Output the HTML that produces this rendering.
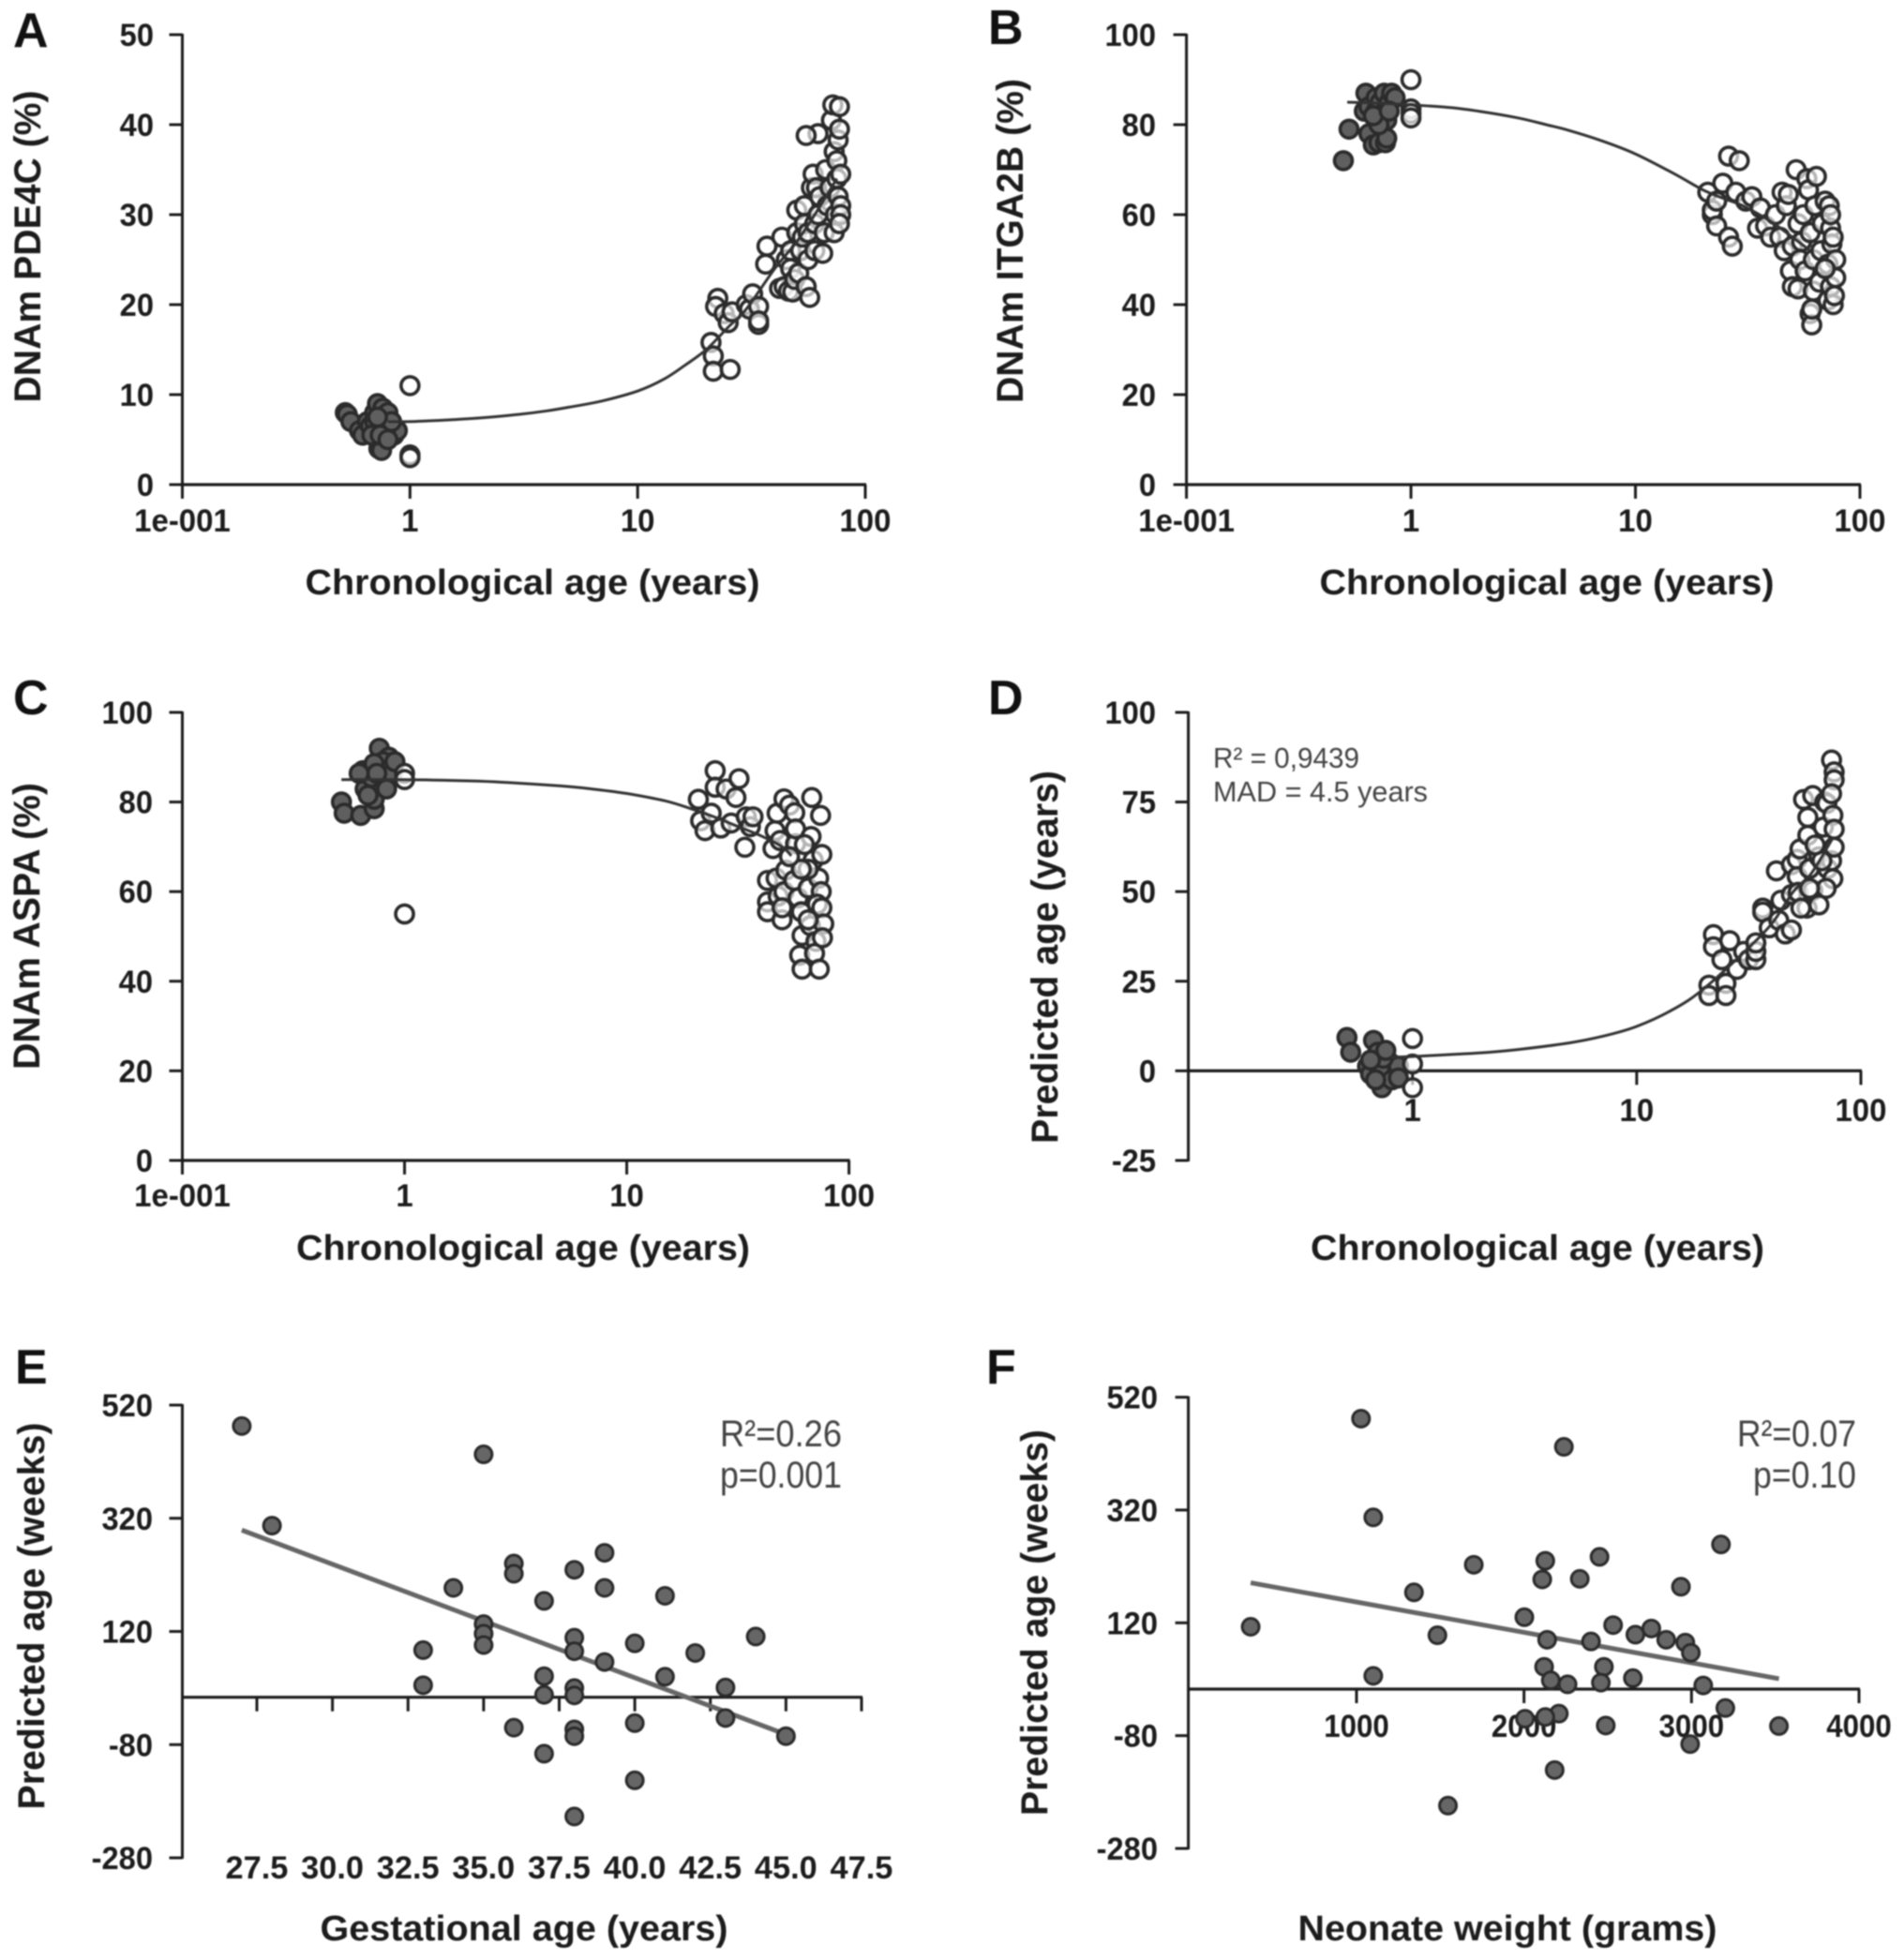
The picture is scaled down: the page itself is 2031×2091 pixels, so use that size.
<!DOCTYPE html>
<html>
<head>
<meta charset="utf-8">
<title>DNAm age panels</title>
<style>
html,body{margin:0;padding:0;background:#fff;}
svg{display:block;filter:blur(0.9px);}
text{font-family:"Liberation Sans",sans-serif;}
</style>
</head>
<body>
<svg id="figure" width="2031" height="2091" viewBox="0 0 2031 2091" xmlns="http://www.w3.org/2000/svg"></svg>
<script>
// ---------- Tick labels ----------
const logTicksFull = [0.1, 1, 10, 100];
const logTickLabelsFull = ['1e-001', '1', '10', '100'];
const logTicksShort = [1, 10, 100];
const logTickLabelsShort = ['1', '10', '100'];
const yTicksA = [0, 10, 20, 30, 40, 50];
const yTicksPercent = [0, 20, 40, 60, 80, 100];
const yTicksD = [-25, 0, 25, 50, 75, 100];
const yTicksWeeks = [-280, -80, 120, 320, 520];
const xTicksE = [27.5, 30, 32.5, 35, 37.5, 40, 42.5, 45, 47.5];
const xTickLabelsE = ['27.5', '30.0', '32.5', '35.0', '37.5', '40.0', '42.5', '45.0', '47.5'];
const xTicksF = [1000, 2000, 3000, 4000];

// ---------- Panel A ----------
const aInfantAge = [0.52,0.53,0.55,0.6,0.62,0.65,0.67,0.7,0.72,0.72,0.73,0.75,0.75,0.76,0.77,0.78,0.8,0.8,0.82,0.85,0.88,0.7,0.68,0.75,0.78,0.83,0.72,0.74,0.8];
const aInfantValue = [8,7.8,7,6,5.5,7,6.5,8,5,9,4,4.5,6,8.5,5,7,8,6,6.5,5.5,6,7,5.5,3.8,5.8,7,7.5,5.5,5];
const aOpenAge = [1,1,1,21,21.5,21.5,25.5,22.5,22,24,25,26,30,31,32,34,34,34,37,36.5,42,43,44,45,46,47,47,48,49,50,50,51,52,53,54,54,55,56,56,57,58,59,60,60,61,62,62,55,63,65,66,67,68,70,71,72,73,73,74,75,75,76,76,77,77,78,78,77,78];
const aOpenValue = [11,3.3,3,15.8,14.3,12.6,12.8,20.7,19.8,19,18,19.2,20,19.5,21.2,19.8,17.8,18.2,26.5,24.5,21.8,27.5,22,25,21.5,26,24,21.4,22.8,28,30.5,23.5,26,27.5,29,31,22,25,28,20.8,33,34.5,26,29,33,30,39,38.8,32,25.7,28,35,31,33,40.5,42.2,28,37,30,34,36,32,38.3,42,39.5,31,30,29,34.5];
const aCurveAge = [0.8,1,1.5,2,3,4,5,7,10,13,16,20,25,30,40,50,60,75];
const aCurveValue = [7,7,7.2,7.4,7.8,8.2,8.6,9.3,10.4,11.7,13.2,15,17.5,19.5,24,27,30,34];

// ---------- Panel B ----------
const bInfantAge = [0.5,0.53,0.63,0.62,0.65,0.65,0.68,0.7,0.7,0.72,0.73,0.75,0.76,0.77,0.78,0.78,0.8,0.82,0.85,0.72,0.68,0.8];
const bInfantValue = [72,79,87,83,84,78,75.5,86,83,76,85,82.5,87,76,81,77,85,87,86,80,82,83];
const bOpenAge = [1,1,1,1,21,22,22,23,23,24.5,26,27,26,29,28,31,33,35,36,38,40,42,44,45,46,47,48,49,50,50,52,53,53,54,55,56,57,58,59,60,60,61,61,62,62,63,64,66,67,68,70,72,72,73,74,74,75,76,77,78,78,76,74,70];
const bOpenValue = [90,83.5,82.5,81.5,65,60,61,57.5,63,67,55,53,73,72,65,63,64,57,61.5,57.5,55,60,55,65,52,62,64.5,47.5,53,44,70,43.5,58,50,54,60,47.5,68,65.5,56,38,35.5,39,50,43,62,68.5,45,52,58,63,49,41,62,44,57,53.5,40,42,50,46,55,60,48];
const bCurveAge = [0.52,0.7,1,1.5,2,3,4,5,7,10,15,20,25,30,40,50,60];
const bCurveValue = [85,84.8,84.4,83.8,83,81.5,80,78.8,76.5,73.5,69,65.5,63.5,62,58.5,55,52];

// ---------- Panel C ----------
const cInfantAge = [0.52,0.535,0.635,0.73,0.65,0.77,0.85,0.765,0.665,0.73,0.8,0.73,0.88,0.83,0.71,0.75,0.625,0.685,0.905];
const cInfantValue = [80,77.5,77,78.5,87,92,90,83.7,82.9,80.6,89,88.6,86.4,82.9,85.5,86.4,86.4,81.5,89];
const cOpenAge = [1,1,1,21,21.5,22.5,24,25,25,26.5,28,31,32,29.5,34,34.5,36,37,43,43,43,45.5,46.5,47.5,47,48,50,51,52,51,49,54,57,57.5,56.5,59,57.5,61,61.5,60,61.5,68,67.5,69,65.5,67,71,70,73.5,74.5,75.5,73,75,72,75.5,77,76,65.5,61,54,63,50,65.5];
const cOpenValue = [86.4,85,55,80.6,75.8,73.6,77.5,87,83.3,74.2,82.9,81,85.2,75.3,69.9,76.7,74.5,76.7,62.5,57.7,55.5,69.6,73.6,77.5,63,59,53.7,80.7,64.8,60,71.4,79.3,77.6,70.7,62.5,58.6,74,55.5,50.2,45.8,42.7,81,72.3,67,60.8,52.4,48.9,46.2,42.7,77,68.3,63,60,57.2,56.4,52.8,49.7,65,65,67.8,70.5,56.4,53.7];
const cCurveAge = [0.52,1,2,3,5,7,10,15,20,25,30,40,50,55];
const cCurveValue = [85,85,84.7,84.3,83.6,82.9,81.9,80.2,78.3,76.6,75,72.5,70,68];

// ---------- Panel D ----------
const dInfantAge = [0.51,0.53,0.67,0.7,0.63,0.65,0.73,0.76,0.79,0.865,0.715,0.81,0.74,0.65,0.685,0.865,0.76];
const dInfantValue = [9.3,5.2,8.5,5.2,1.3,-0.9,-4.7,-1.4,2.4,1.3,0.2,-2.5,3.5,3,-2.5,-2,5.7];
const dOpenAge = [1,1,1,21,21,22,22,24,25,25,26,28,30,31.5,34,34,34,36.5,36.5,39,43,44,46,42,49,49,49,52,52,52.5,53.5,55.5,57.5,58,58,59,61,61,65,65,68,69,71,70.5,74,76,76,74,75,76,74,75,76,67,62.5,70,59,54];
const dOpenValue = [9,1.9,-4.7,23.9,21,38,34.6,31,24.4,21,36.3,28.3,33.3,31,31,33.3,35.7,45.4,44.3,39.9,42,47.6,38.2,55.8,39.3,57.5,49.2,59,54.2,49.8,61.9,75.7,45.4,70.7,65.7,56.4,76.8,50.3,46.3,59.7,68,75,56.4,74.6,86.7,83.4,81.2,77.3,71.3,67.4,58.6,53.6,62.4,58.6,63,50.9,50.9,45.4];
const dCurveAge = [0.8,1,2,3,5,7,10,15,20,30,40,50,60,75];
const dCurveValue = [3.8,4,5,6,7.8,9.6,12.4,17.6,23,33,41,50,55,65];

// ---------- Panel E ----------
const eGestation = [27,28,35,36,36,34,39,38,39,37,41,35,35,35,33,33,38,38,40,44,42,39,37,41,43,38,38,37,43,40,36,38,38,45,37,40,38];
const ePredicted = [483,307,433,240,222,197,259,229,197,174,183,133,116,96,87,25,109,85,99,111,82,66,41,40,21,20,7,8,-33,-42,-50,-53,-65,-65,-96,-143,-207];
const eFitX = [27,45];
const eFitY = [299,-62];

// ---------- Panel F ----------
const fWeight = [368,1027,1100,1100,1343,1483,1700,1546,2002,2127,2109,2138,2120,2160,2260,2238,2333,2451,2400,2477,2459,2532,2665,2650,2760,2849,2937,2963,2996,3070,3176,3202,3522,2992,2488,2208,2127,2006,2183];
const fPredicted = [113,482,307,26,174,98,223,-204,130,230,197,90,42,18,11,432,198,237,87,42,14,116,99,22,110,90,184,85,67,9,259,-31,-63,-95,-62,-41,-47,-50,-141];
const fFitX = [368,3522];
const fFitY = [191,21];

// ---------- Drawing helpers ----------
const NS = 'http://www.w3.org/2000/svg';
const root = document.getElementById('figure');
const INK = '#1c1c1c';

function addGroup(name) {
  const g = document.createElementNS(NS, 'g');
  
  
  root.appendChild(g);
  return g;
}

function addLine(parent, name, x1, y1, x2, y2, width, color) {
  const l = document.createElementNS(NS, 'line');
  
  
  l.setAttribute('x1', x1);
  l.setAttribute('y1', y1);
  l.setAttribute('x2', x2);
  l.setAttribute('y2', y2);
  l.setAttribute('stroke', color || INK);
  l.setAttribute('stroke-width', width);
  parent.appendChild(l);
}

function addText(parent, name, str, x, y, size, weight, anchor, fill, targetLen, stretch, rotate) {
  const t = document.createElementNS(NS, 'text');
  
  
  t.setAttribute('x', x);
  t.setAttribute('y', y);
  t.setAttribute('font-size', size);
  t.setAttribute('font-weight', weight);
  t.setAttribute('text-anchor', anchor);
  t.setAttribute('fill', fill);
  if (rotate) t.setAttribute('transform', 'rotate(-90 ' + x + ' ' + y + ')');
  t.textContent = str;
  parent.appendChild(t);
  let len = targetLen;
  if (!len && stretch) len = t.getComputedTextLength() * stretch;
  if (len) {
    t.setAttribute('textLength', len);
    t.setAttribute('lengthAdjust', 'spacingAndGlyphs');
  }
}

function addDot(parent, name, cx, cy, r, fill, strokeWidth, fillOpacity) {
  const c = document.createElementNS(NS, 'circle');
  
  
  c.setAttribute('cx', cx);
  c.setAttribute('cy', cy);
  c.setAttribute('r', r);
  c.setAttribute('fill', fill);
  c.setAttribute('fill-opacity', fillOpacity);
  c.setAttribute('stroke', '#2b2b2b');
  c.setAttribute('stroke-width', strokeWidth);
  parent.appendChild(c);
}

// Smooth path through the data points (Catmull-Rom in pixel space).
function addCurve(parent, name, xs, ys, sx, sy, width, color) {
  const pts = xs.map((v, i) => [sx(v), sy(ys[i])]);
  let d = 'M' + pts[0][0].toFixed(1) + ' ' + pts[0][1].toFixed(1);
  for (let i = 0; i < pts.length - 1; i++) {
    const p0 = pts[Math.max(0, i - 1)];
    const p1 = pts[i];
    const p2 = pts[i + 1];
    const p3 = pts[Math.min(pts.length - 1, i + 2)];
    const c1x = p1[0] + (p2[0] - p0[0]) / 6;
    const c1y = p1[1] + (p2[1] - p0[1]) / 6;
    const c2x = p2[0] - (p3[0] - p1[0]) / 6;
    const c2y = p2[1] - (p3[1] - p1[1]) / 6;
    d += 'C' + c1x.toFixed(1) + ' ' + c1y.toFixed(1) + ' ' + c2x.toFixed(1) + ' ' + c2y.toFixed(1) + ' ' + p2[0].toFixed(1) + ' ' + p2[1].toFixed(1);
  }
  const p = document.createElementNS(NS, 'path');
  
  
  p.setAttribute('d', d);
  p.setAttribute('fill', 'none');
  p.setAttribute('stroke', color);
  p.setAttribute('stroke-width', width);
  parent.appendChild(p);
}

function linearScale(v0, p0, v1, p1) {
  return v => p0 + (v - v0) * (p1 - p0) / (v1 - v0);
}

function logScale(p0, p1) {
  return v => p0 + (Math.log10(v) + 1) * (p1 - p0) / 3;
}

function drawAxes(g, o) {
  addLine(g, 'y-axis', o.axisX, o.yTop - 1, o.axisX, o.yBottom + 1, 3);
  addLine(g, 'x-axis', o.axisX - (o.crossTick ? 13 : 0), o.crossY, o.xEnd + 1, o.crossY, 3.2);
  o.yTicks.forEach(v => {
    addLine(g, 'y-tick', o.axisX - 14, o.sy(v), o.axisX, o.sy(v), 3);
    addText(g, 'y-tick-label', String(v), o.yLabelRight, o.sy(v) + 12, 34, 'bold', 'end', INK, 0, 0.96);
  });
  o.xTicks.forEach((v, i) => {
    addLine(g, 'x-tick', o.sx(v), o.crossY, o.sx(v), o.crossY + 15, 3);
    addText(g, 'x-tick-label', o.xLabels[i], o.sx(v), o.xLabelBase, 34, 'bold', 'middle', INK, 0, o.xStretch || 0.97);
  });
}

function drawTitles(g, o) {
  addText(g, 'panel-letter', o.letter, o.letterX, o.letterY, 52, 'bold', 'start', '#111');
  addText(g, 'x-axis-title', o.xTitle, o.xTitleX, o.xTitleY, 38, 'bold', 'middle', INK, o.xTitleLen);
  addText(g, 'y-axis-title', o.yTitle, o.yTitleX, o.yTitleY, 40, 'bold', 'middle', INK, o.yTitleLen, 0, true);
}

function drawAgePanel(name, o, infantAge, infantValue, openAge, openValue, curveAge, curveValue) {
  const g = addGroup(name);
  o.sx = logScale(o.axisX, o.xEnd);
  o.sy = linearScale(o.yMin, o.yBottom, o.yMax, o.yTop);
  o.crossY = o.sy(0);
  drawAxes(g, o);
  drawTitles(g, o);
  infantAge.forEach((v, i) => addDot(g, 'infant-point', o.sx(v), o.sy(infantValue[i]), 9.5, '#5f5f5f', 3.6, 1));
  openAge.forEach((v, i) => addDot(g, 'adult-point', o.sx(v), o.sy(openValue[i]), 9.5, '#fff', 3.6, 0.65));
  addCurve(g, 'fit-curve', curveAge, curveValue, o.sx, o.sy, 3, '#333');
  return g;
}

function drawScatterPanel(name, o, xs, ys, fitX, fitY) {
  const g = addGroup(name);
  o.sy = linearScale(o.yMin, o.yBottom, o.yMax, o.yTop);
  drawAxes(g, o);
  drawTitles(g, o);
  addCurve(g, 'regression-line', fitX, fitY, o.sx, o.sy, 5, '#666');
  xs.forEach((v, i) => addDot(g, 'sample-point', o.sx(v), o.sy(ys[i]), 9, '#666', 3, 1));
  return g;
}

// ---------- Panels ----------
drawAgePanel('panel-a', {
  letter: 'A', letterX: 14, letterY: 50,
  axisX: 194.5, xEnd: 923, yTop: 37, yBottom: 517, yMin: 0, yMax: 50,
  yTicks: yTicksA, yLabelRight: 164,
  xTicks: logTicksFull, xLabels: logTickLabelsFull, xLabelBase: 567,
  xTitle: 'Chronological age (years)', xTitleX: 568, xTitleY: 634, xTitleLen: 485,
  yTitle: 'DNAm PDE4C (%)', yTitleX: 43, yTitleY: 263, yTitleLen: 333
}, aInfantAge, aInfantValue, aOpenAge, aOpenValue, aCurveAge, aCurveValue);

drawAgePanel('panel-b', {
  letter: 'B', letterX: 1054, letterY: 47,
  axisX: 1265.6, xEnd: 1984, yTop: 37, yBottom: 517, yMin: 0, yMax: 100,
  yTicks: yTicksPercent, yLabelRight: 1233,
  xTicks: logTicksFull, xLabels: logTickLabelsFull, xLabelBase: 567,
  xTitle: 'Chronological age (years)', xTitleX: 1650, xTitleY: 634, xTitleLen: 485,
  yTitle: 'DNAm ITGA2B (%)', yTitleX: 1091, yTitleY: 257, yTitleLen: 346
}, bInfantAge, bInfantValue, bOpenAge, bOpenValue, bCurveAge, bCurveValue);

drawAgePanel('panel-c', {
  letter: 'C', letterX: 14, letterY: 762,
  axisX: 194.5, xEnd: 905.6, yTop: 760, yBottom: 1238, yMin: 0, yMax: 100,
  yTicks: yTicksPercent, yLabelRight: 163,
  xTicks: logTicksFull, xLabels: logTickLabelsFull, xLabelBase: 1287,
  xTitle: 'Chronological age (years)', xTitleX: 558, xTitleY: 1344, xTitleLen: 484,
  yTitle: 'DNAm ASPA (%)', yTitleX: 42, yTitleY: 988, yTitleLen: 306
}, cInfantAge, cInfantValue, cOpenAge, cOpenValue, cCurveAge, cCurveValue);

const panelD = drawAgePanel('panel-d', {
  letter: 'D', letterX: 1054, letterY: 762,
  axisX: 1267.6, xEnd: 1985, yTop: 760, yBottom: 1238, yMin: -25, yMax: 100,
  yTicks: yTicksD, yLabelRight: 1233,
  xTicks: logTicksShort, xLabels: logTickLabelsShort, xLabelBase: 1196,
  xTitle: 'Chronological age (years)', xTitleX: 1640, xTitleY: 1344, xTitleLen: 484,
  yTitle: 'Predicted age (years)', yTitleX: 1128, yTitleY: 1021, yTitleLen: 398
}, dInfantAge, dInfantValue, dOpenAge, dOpenValue, dCurveAge, dCurveValue);
addText(panelD, 'r-squared-note', 'R² = 0,9439', 1294, 819, 31, 'normal', 'start', '#444', 156);
addText(panelD, 'mad-note', 'MAD = 4.5 years', 1294, 855, 31, 'normal', 'start', '#444', 229);

const panelE = drawScatterPanel('panel-e', {
  letter: 'E', letterX: 16, letterY: 1476,
  axisX: 194.5, xEnd: 919, yTop: 1499, yBottom: 1982, yMin: -280, yMax: 520,
  crossY: 1810.7, sx: linearScale(27.5, 274, 47.5, 919),
  yTicks: yTicksWeeks, yLabelRight: 163,
  xTicks: xTicksE, xLabels: xTickLabelsE, xLabelBase: 2004, xStretch: 1.01,
  xTitle: 'Gestational age (years)', xTitleX: 559, xTitleY: 2070, xTitleLen: 435,
  yTitle: 'Predicted age (weeks)', yTitleX: 47, yTitleY: 1724, yTitleLen: 413
}, eGestation, ePredicted, eFitX, eFitY);
addText(panelE, 'r-squared-note', 'R²=0.26', 768, 1543, 40, 'normal', 'start', '#444', 130);
addText(panelE, 'p-value-note', 'p=0.001', 768, 1587, 40, 'normal', 'start', '#444', 130);

const panelF = drawScatterPanel('panel-f', {
  letter: 'F', letterX: 1052, letterY: 1476,
  axisX: 1267.6, xEnd: 1983, yTop: 1490.6, yBottom: 1972, yMin: -280, yMax: 520,
  crossY: 1802, sx: linearScale(1000, 1447, 4000, 1983),
  yTicks: yTicksWeeks, yLabelRight: 1235,
  xTicks: xTicksF, xLabels: xTicksF.map(String), xLabelBase: 1853, xStretch: 0.92,
  xTitle: 'Neonate weight (grams)', xTitleX: 1608, xTitleY: 2070, xTitleLen: 447,
  yTitle: 'Predicted age (weeks)', yTitleX: 1117, yTitleY: 1731, yTitleLen: 412
}, fWeight, fPredicted, fFitX, fFitY);
addText(panelF, 'r-squared-note', 'R²=0.07', 1980, 1543, 40, 'normal', 'end', '#444', 127);
addText(panelF, 'p-value-note', 'p=0.10', 1980, 1587, 40, 'normal', 'end', '#444', 110);
</script>
</body>
</html>
